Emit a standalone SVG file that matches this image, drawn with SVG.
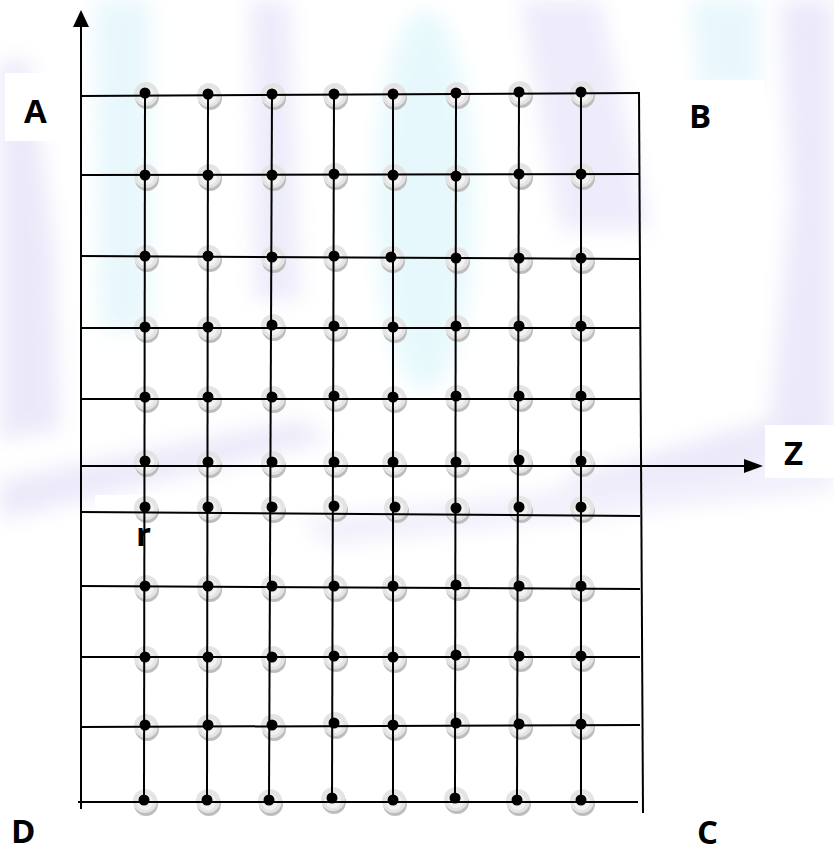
<svg xmlns="http://www.w3.org/2000/svg" xmlns:xlink="http://www.w3.org/1999/xlink" width="834" height="854" viewBox="0 0 834 854">
<style>
.ln{stroke:#000;stroke-width:2;fill:none}
.lbl{font-family:"Open Sans","Noto Sans","Liberation Sans",sans-serif;font-weight:bold;font-size:33px;fill:#000}
.wm{opacity:0.4}
</style>
<defs>
<filter id="blur" x="-30%" y="-30%" width="160%" height="160%"><feGaussianBlur stdDeviation="10"/></filter>
<g id="halo">
<circle cx="2" cy="4" r="12" fill="#bdbdbd"/>
<circle cx="1" cy="1" r="12" fill="#e4e4e4"/>
<circle cx="1" cy="2" r="8" fill="#f2f2f2"/>
</g>
<circle id="dot" r="5.5" fill="#000"/>
</defs>
<rect width="834" height="854" fill="#fff"/>
<g id="watermark" class="wm" filter="url(#blur)">
<polygon points="0,60 30,60 55,250 60,430 0,440" fill="#cfcaf2"/>
<polygon points="95,0 150,0 150,330 100,330" fill="#c6ecf8"/>
<polygon points="250,0 290,0 300,300 255,300" fill="#d3cff4"/>
<ellipse cx="425" cy="200" rx="50" ry="190" fill="#c5f0f8"/>
<polygon points="520,0 600,0 650,230 560,230" fill="#d5d0f5"/>
<polygon points="690,0 760,0 760,90 700,90" fill="#c7ecf8"/>
<polygon points="780,0 834,0 834,420 770,420 790,200" fill="#d0cbf4"/>
<polygon points="0,480 300,420 330,440 0,520" fill="#cfcaf2"/>
<polygon points="560,480 834,400 834,440 600,520" fill="#cfcaf2"/>
<polygon points="300,520 834,460 834,490 330,545" fill="#dcd8f6"/>
</g>
<g id="label-bg" fill="#fff">
<rect x="5" y="73" width="70" height="68"/>
<rect x="668" y="80" width="96" height="76"/>
<rect x="765" y="425" width="69" height="53"/>
<rect x="95" y="495" width="77" height="32"/>
</g>
<g id="halos">
<use xlink:href="#halo" x="145" y="93"/><use xlink:href="#halo" x="208" y="94"/><use xlink:href="#halo" x="272" y="94"/><use xlink:href="#halo" x="334" y="94"/><use xlink:href="#halo" x="393" y="94"/><use xlink:href="#halo" x="456" y="93"/><use xlink:href="#halo" x="519" y="92"/><use xlink:href="#halo" x="581" y="92"/>
<use xlink:href="#halo" x="145" y="175"/><use xlink:href="#halo" x="208" y="175"/><use xlink:href="#halo" x="272" y="175"/><use xlink:href="#halo" x="334" y="174"/><use xlink:href="#halo" x="393" y="175"/><use xlink:href="#halo" x="456" y="176"/><use xlink:href="#halo" x="519" y="174"/><use xlink:href="#halo" x="581" y="174"/>
<use xlink:href="#halo" x="145" y="256"/><use xlink:href="#halo" x="208" y="256"/><use xlink:href="#halo" x="272" y="257"/><use xlink:href="#halo" x="334" y="256"/><use xlink:href="#halo" x="391" y="257"/><use xlink:href="#halo" x="456" y="258"/><use xlink:href="#halo" x="519" y="258"/><use xlink:href="#halo" x="581" y="258"/>
<use xlink:href="#halo" x="145" y="327"/><use xlink:href="#halo" x="208" y="327"/><use xlink:href="#halo" x="272" y="325"/><use xlink:href="#halo" x="334" y="326"/><use xlink:href="#halo" x="393" y="327"/><use xlink:href="#halo" x="456" y="326"/><use xlink:href="#halo" x="519" y="326"/><use xlink:href="#halo" x="581" y="326"/>
<use xlink:href="#halo" x="145" y="397"/><use xlink:href="#halo" x="208" y="397"/><use xlink:href="#halo" x="272" y="397"/><use xlink:href="#halo" x="334" y="396"/><use xlink:href="#halo" x="393" y="397"/><use xlink:href="#halo" x="456" y="396"/><use xlink:href="#halo" x="519" y="396"/><use xlink:href="#halo" x="581" y="396"/>
<use xlink:href="#halo" x="145" y="461"/><use xlink:href="#halo" x="208" y="462"/><use xlink:href="#halo" x="272" y="462"/><use xlink:href="#halo" x="334" y="462"/><use xlink:href="#halo" x="393" y="462"/><use xlink:href="#halo" x="456" y="462"/><use xlink:href="#halo" x="519" y="460"/><use xlink:href="#halo" x="581" y="461"/>
<use xlink:href="#halo" x="145" y="507"/><use xlink:href="#halo" x="208" y="507"/><use xlink:href="#halo" x="272" y="507"/><use xlink:href="#halo" x="334" y="506"/><use xlink:href="#halo" x="395" y="507"/><use xlink:href="#halo" x="456" y="508"/><use xlink:href="#halo" x="519" y="507"/><use xlink:href="#halo" x="581" y="507"/>
<use xlink:href="#halo" x="145" y="586"/><use xlink:href="#halo" x="208" y="586"/><use xlink:href="#halo" x="272" y="586"/><use xlink:href="#halo" x="334" y="586"/><use xlink:href="#halo" x="393" y="586"/><use xlink:href="#halo" x="456" y="585"/><use xlink:href="#halo" x="519" y="586"/><use xlink:href="#halo" x="581" y="586"/>
<use xlink:href="#halo" x="145" y="657"/><use xlink:href="#halo" x="208" y="657"/><use xlink:href="#halo" x="272" y="657"/><use xlink:href="#halo" x="334" y="656"/><use xlink:href="#halo" x="393" y="657"/><use xlink:href="#halo" x="456" y="655"/><use xlink:href="#halo" x="519" y="656"/><use xlink:href="#halo" x="581" y="656"/>
<use xlink:href="#halo" x="145" y="725"/><use xlink:href="#halo" x="208" y="725"/><use xlink:href="#halo" x="272" y="725"/><use xlink:href="#halo" x="334" y="723"/><use xlink:href="#halo" x="393" y="725"/><use xlink:href="#halo" x="456" y="723"/><use xlink:href="#halo" x="519" y="724"/><use xlink:href="#halo" x="581" y="724"/>
<use xlink:href="#halo" x="144" y="800"/><use xlink:href="#halo" x="207" y="800"/><use xlink:href="#halo" x="269" y="800"/><use xlink:href="#halo" x="332" y="798"/><use xlink:href="#halo" x="393" y="800"/><use xlink:href="#halo" x="455" y="798"/><use xlink:href="#halo" x="517" y="800"/><use xlink:href="#halo" x="581" y="800"/>
</g>
<g id="connectors">
<line class="ln" x1="81" y1="96" x2="640" y2="93"/>
<line class="ln" x1="81" y1="175" x2="640" y2="174"/>
<line class="ln" x1="81" y1="256" x2="640" y2="259"/>
<line class="ln" x1="81" y1="328" x2="640" y2="328"/>
<line class="ln" x1="81" y1="399" x2="640" y2="399"/>
<line class="ln" x1="81" y1="466" x2="748" y2="466"/>
<polygon points="763,466 744,459 744,473" fill="#000"/>
<line class="ln" x1="81" y1="512" x2="640" y2="516"/>
<line class="ln" x1="81" y1="586" x2="640" y2="589"/>
<line class="ln" x1="81" y1="657" x2="640" y2="657"/>
<line class="ln" x1="81" y1="727" x2="640" y2="725"/>
<line class="ln" x1="78" y1="802" x2="638" y2="802"/>
<line class="ln" x1="81" y1="26" x2="81" y2="809"/>
<polygon points="81,10 73,27 89,27" fill="#000"/>
<line class="ln" x1="639" y1="92" x2="643" y2="813"/>
<line class="ln" x1="145" y1="93" x2="144" y2="800"/>
<line class="ln" x1="208" y1="94" x2="207" y2="800"/>
<line class="ln" x1="272" y1="94" x2="269" y2="800"/>
<line class="ln" x1="334" y1="94" x2="332" y2="798"/>
<line class="ln" x1="393" y1="94" x2="393" y2="800"/>
<line class="ln" x1="456" y1="93" x2="455" y2="798"/>
<line class="ln" x1="519" y1="92" x2="517" y2="800"/>
<line class="ln" x1="581" y1="92" x2="581" y2="800"/>
</g>
<g id="nodes">
<g id="n1"><use xlink:href="#dot" x="145" y="93"/><use xlink:href="#dot" x="208" y="94"/><use xlink:href="#dot" x="272" y="94"/><use xlink:href="#dot" x="334" y="94"/><use xlink:href="#dot" x="393" y="94"/><use xlink:href="#dot" x="456" y="93"/><use xlink:href="#dot" x="519" y="92"/><use xlink:href="#dot" x="581" y="92"/></g>
<g id="n2"><use xlink:href="#dot" x="145" y="175"/><use xlink:href="#dot" x="208" y="175"/><use xlink:href="#dot" x="272" y="175"/><use xlink:href="#dot" x="334" y="174"/><use xlink:href="#dot" x="393" y="175"/><use xlink:href="#dot" x="456" y="176"/><use xlink:href="#dot" x="519" y="174"/><use xlink:href="#dot" x="581" y="174"/></g>
<g id="n3"><use xlink:href="#dot" x="145" y="256"/><use xlink:href="#dot" x="208" y="256"/><use xlink:href="#dot" x="272" y="257"/><use xlink:href="#dot" x="334" y="256"/><use xlink:href="#dot" x="391" y="257"/><use xlink:href="#dot" x="456" y="258"/><use xlink:href="#dot" x="519" y="258"/><use xlink:href="#dot" x="581" y="258"/></g>
<g id="n4"><use xlink:href="#dot" x="145" y="327"/><use xlink:href="#dot" x="208" y="327"/><use xlink:href="#dot" x="272" y="325"/><use xlink:href="#dot" x="334" y="326"/><use xlink:href="#dot" x="393" y="327"/><use xlink:href="#dot" x="456" y="326"/><use xlink:href="#dot" x="519" y="326"/><use xlink:href="#dot" x="581" y="326"/></g>
<g id="n5"><use xlink:href="#dot" x="145" y="397"/><use xlink:href="#dot" x="208" y="397"/><use xlink:href="#dot" x="272" y="397"/><use xlink:href="#dot" x="334" y="396"/><use xlink:href="#dot" x="393" y="397"/><use xlink:href="#dot" x="456" y="396"/><use xlink:href="#dot" x="519" y="396"/><use xlink:href="#dot" x="581" y="396"/></g>
<g id="n6"><use xlink:href="#dot" x="145" y="461"/><use xlink:href="#dot" x="208" y="462"/><use xlink:href="#dot" x="272" y="462"/><use xlink:href="#dot" x="334" y="462"/><use xlink:href="#dot" x="393" y="462"/><use xlink:href="#dot" x="456" y="462"/><use xlink:href="#dot" x="519" y="460"/><use xlink:href="#dot" x="581" y="461"/></g>
<g id="n7"><use xlink:href="#dot" x="145" y="507"/><use xlink:href="#dot" x="208" y="507"/><use xlink:href="#dot" x="272" y="507"/><use xlink:href="#dot" x="334" y="506"/><use xlink:href="#dot" x="395" y="507"/><use xlink:href="#dot" x="456" y="508"/><use xlink:href="#dot" x="519" y="507"/><use xlink:href="#dot" x="581" y="507"/></g>
<g id="n8"><use xlink:href="#dot" x="145" y="586"/><use xlink:href="#dot" x="208" y="586"/><use xlink:href="#dot" x="272" y="586"/><use xlink:href="#dot" x="334" y="586"/><use xlink:href="#dot" x="393" y="586"/><use xlink:href="#dot" x="456" y="585"/><use xlink:href="#dot" x="519" y="586"/><use xlink:href="#dot" x="581" y="586"/></g>
<g id="n9"><use xlink:href="#dot" x="145" y="657"/><use xlink:href="#dot" x="208" y="657"/><use xlink:href="#dot" x="272" y="657"/><use xlink:href="#dot" x="334" y="656"/><use xlink:href="#dot" x="393" y="657"/><use xlink:href="#dot" x="456" y="655"/><use xlink:href="#dot" x="519" y="656"/><use xlink:href="#dot" x="581" y="656"/></g>
<g id="n10"><use xlink:href="#dot" x="145" y="725"/><use xlink:href="#dot" x="208" y="725"/><use xlink:href="#dot" x="272" y="725"/><use xlink:href="#dot" x="334" y="723"/><use xlink:href="#dot" x="393" y="725"/><use xlink:href="#dot" x="456" y="723"/><use xlink:href="#dot" x="519" y="724"/><use xlink:href="#dot" x="581" y="724"/></g>
<g id="n11"><use xlink:href="#dot" x="144" y="800"/><use xlink:href="#dot" x="207" y="800"/><use xlink:href="#dot" x="269" y="800"/><use xlink:href="#dot" x="332" y="798"/><use xlink:href="#dot" x="393" y="800"/><use xlink:href="#dot" x="455" y="798"/><use xlink:href="#dot" x="517" y="800"/><use xlink:href="#dot" x="581" y="800"/></g>
</g>
<g id="labels">
<text class="lbl" x="24" y="123">A</text>
<text class="lbl" x="689" y="128">B</text>
<text class="lbl" x="784" y="465">Z</text>
<text class="lbl" x="11" y="843">D</text>
<text class="lbl" x="697" y="844">C</text>
<text class="lbl" x="136" y="546">r</text>
</g>
</svg>
